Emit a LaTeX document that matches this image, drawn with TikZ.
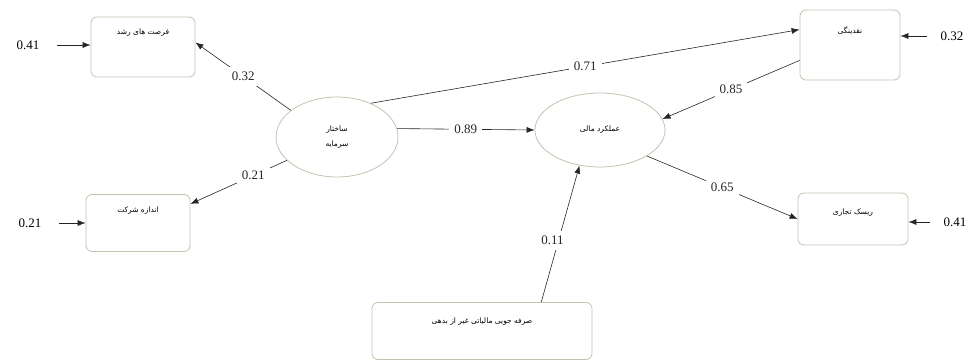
\documentclass[tikz,border=0pt]{standalone}
\usepackage{fontspec}
\setmainfont{Liberation Serif}
\newfontfamily\fa[Script=Arabic]{DejaVu Sans}
\TeXXeTstate=1
\usetikzlibrary{shapes.geometric,arrows.meta}
\definecolor{boxline}{RGB}{185,200,175}
\begin{document}
\begin{tikzpicture}[x=1pt,y=-1pt,
  varbox/.style={draw=boxline,rounded corners=6pt,thick,minimum width=#1},
  varbox/.default=104pt,
  latent/.style={draw=boxline,ellipse,thick},
  coef/.style={fill=white,inner sep=5pt,font=\fontsize{13}{15}\selectfont},
  err/.style={font=\fontsize{13}{15}\selectfont},
  path/.style={-{Latex[length=8pt,width=6pt]},semithick,black!85}]
\useasboundingbox (0,0) rectangle (976,361);

% observed variables
\node[varbox,minimum height=60pt] (growth) at (143,47) {};
\node[font=\fontsize{7.5}{8}\selectfont\fa] at (143,33) {\beginR فرصت های رشد\endR};
\node[varbox,minimum height=57pt] (size) at (138,223) {};
\node[font=\fontsize{7.5}{8}\selectfont\fa] at (138,211) {\beginR اندازه شرکت\endR};
\node[varbox=100pt,minimum height=70pt] (liq) at (850,45) {};
\node[font=\fontsize{7.5}{8}\selectfont\fa] at (850,31) {\beginR نقدینگی\endR};
\node[varbox=110pt,minimum height=52pt] (risk) at (853,219) {};
\node[font=\fontsize{7.5}{8}\selectfont\fa] at (853,213) {\beginR ریسک تجاری\endR};
\node[varbox=220pt,minimum height=57pt] (ndts) at (482,331) {};
\node[font=\fontsize{7.5}{8}\selectfont\fa] at (482,322) {\beginR صرفه جویی مالیاتی غیر از بدهی\endR};

% latent variables
\node[latent,minimum width=122pt,minimum height=80pt,align=center,
  font=\fontsize{7.5}{15}\selectfont\fa] (cap) at (337,137)
  {\beginR ساختار\endR\\ \beginR سرمایه\endR};
\node[latent,minimum width=130pt,minimum height=74pt,
  font=\fontsize{7.5}{8}\selectfont\fa] (perf) at (600,130) {\beginR عملکرد مالی\endR};

% error terms
\node[err] (e1) at (28,45) {0.41};
\node[err] (e2) at (30,223) {0.21};
\node[err] (e3) at (952,36) {0.32};
\node[err] (e4) at (955,222) {0.41};
\draw[path,shorten <=14pt] (e1) -- (e1 -| growth.west);
\draw[path,shorten <=14pt] (e2) -- (e2 -| size.west);
\draw[path,shorten <=10pt] (e3) -- (e3 -| liq.east);
\draw[path,shorten <=10pt] (e4) -- (e4 -| risk.east);

% paths
\draw[path] (cap.150) -- node[coef] {0.32} (growth.5);
\draw[path] (cap.205) -- node[coef,pos=0.35] {0.21} (size.20);
\draw[path] (cap.8) -- node[coef] {0.89} (perf.180);
\draw[path] (cap.45) -- node[coef] {0.71} (liq.163);
\draw[path] (liq.197) -- node[coef] {0.85} (perf.10);
\draw[path] (perf.331) -- node[coef] {0.65} (risk.west);
\draw[path] (ndts.26) -- node[coef,pos=0.45,xshift=-6pt] {0.11} (perf.240);
\end{tikzpicture}
\end{document}
